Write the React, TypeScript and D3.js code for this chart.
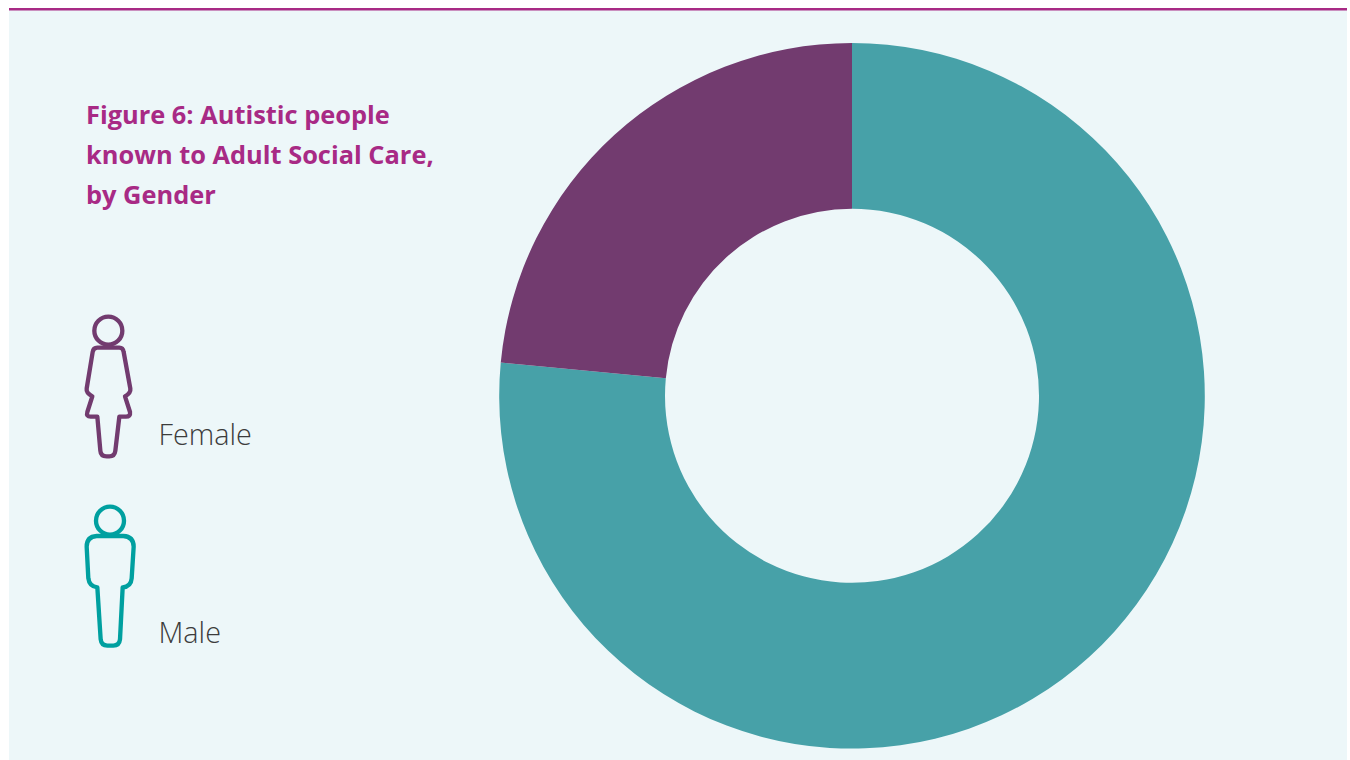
import React from "react";
import * as d3 from "d3";

const genders = ["Male", "Female"];
const shares = [76.5, 23.5];
const sliceColours = ["#47a1a8", "#723b6f"];
const titleLines = ["Figure 6: Autistic people", "known to Adult Social Care,", "by Gender"];

const WIDTH = 1350;
const HEIGHT = 760;
const centre = { x: 852, y: 395.8 };
const OUTER_RADIUS = 352.8;
const INNER_RADIUS = 187;

const pie = d3.pie<number>().sort(null).value((d) => d);
const arc = d3
  .arc<d3.PieArcDatum<number>>()
  .innerRadius(INNER_RADIUS)
  .outerRadius(OUTER_RADIUS);

// Person pictograms, drawn on a 3x grid and scaled down where they are placed.
const femaleBody =
  "M82 143 L148 143 Q159 143 161 156 L181 266 Q183 279 165 289 L180 336 Q182 350 168 350 L148 350 L136 452 Q134 469 118 469 L110 469 Q92 469 91 452 L82 350 L62 350 Q48 350 52 336 L67 289 Q48 279 50 266 L68 156 Q70 143 82 143 Z";
const maleBody =
  "M80 138 L160 138 Q191 140 191 170 L185 265 Q183 290 158 292 L150 448 Q148 467 130 467 L112 467 Q94 467 92 448 L82 292 Q58 290 55 265 L50 170 Q50 140 80 138 Z";

function Person({ x, y, body, head, colour }: { x: number; y: number; body: string; head: number; colour: string }) {
  return (
    <g transform={`translate(${x},${y}) scale(${1 / 3})`} fill="none" stroke={colour} strokeWidth={13} strokeLinejoin="round">
      <circle cx={head} cy={92} r={42} />
      <path d={body} />
    </g>
  );
}

export default function App() {
  const slices = pie(shares);
  return (
    <svg
      width={WIDTH}
      height={HEIGHT}
      viewBox={`0 0 ${WIDTH} ${HEIGHT}`}
      style={{ position: "absolute", left: 0, top: 0, display: "block", background: "#ffffff" }}
    >
      <rect x={9} y={9} width={1338} height={751} fill="#edf7f9" />
      <rect x={9} y={8} width={1338} height={2.5} fill="#a82a85" />

      <g transform={`translate(${centre.x},${centre.y})`}>
        {slices.map((s, i) => (
          <path key={genders[i]} d={arc(s) ?? ""} fill={sliceColours[i]} />
        ))}
      </g>

      <g fontFamily="'Open Sans', sans-serif" fontWeight={700} fontSize={25.4} fill="#a82a85">
        {titleLines.map((line, i) => (
          <text key={line} x={86} y={124 + i * 40}>
            {line}
          </text>
        ))}
      </g>

      <Person x={70} y={300} body={femaleBody} head={115} colour="#723b6f" />
      <Person x={70} y={490} body={maleBody} head={120} colour="#00a0a0" />

      <g fontFamily="'Open Sans', sans-serif" fontWeight={300} fontSize={28.8} fill="#3c3c3c">
        <text x={158.5} y={444.5}>{genders[1]}</text>
        <text x={158.5} y={642.5}>{genders[0]}</text>
      </g>
    </svg>
  );
}
